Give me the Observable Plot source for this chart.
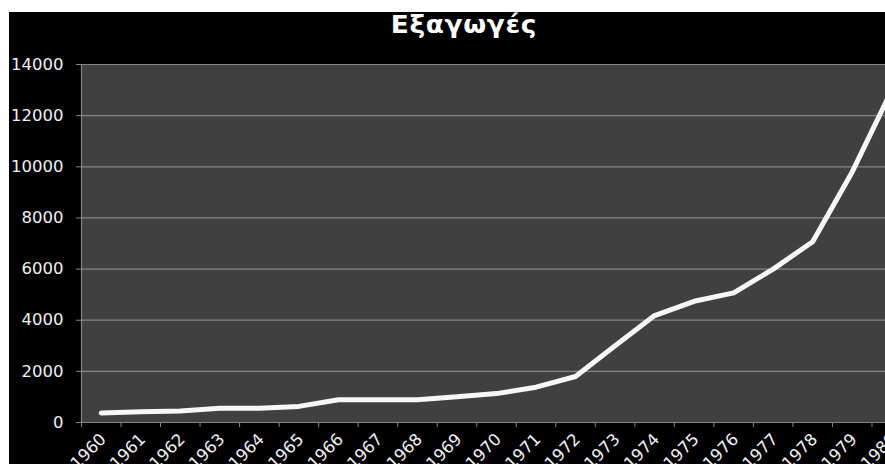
<!DOCTYPE html>
<html>
<head>
<meta charset="utf-8">
<script src="https://cdn.jsdelivr.net/npm/d3@7"></script>
<script src="https://cdn.jsdelivr.net/npm/@observablehq/plot@0.6"></script>
<style>
  html, body { margin: 0; padding: 0; background: #ffffff; overflow: hidden; width: 885px; height: 464px; }
  #chart { position: absolute; left: 9px; top: 12px; width: 910px; height: 460px; background: #000; }
  #title { position: absolute; left: 0; top: 1px; width: 910px; text-align: center; color: #ffffff;
           font-family: "DejaVu Sans", sans-serif; font-weight: 700; font-size: 24px; line-height: 24px;
           letter-spacing: 0.6px; transform: scaleX(1.1); transform-origin: 455px 0; }
  #plot { position: absolute; left: 0; top: 0; }
</style>
</head>
<body>
<div id="chart"><div id="plot"></div><div id="title">Εξαγωγές</div></div>
<script>
const title = "Εξαγωγές";
const years = [1960, 1961, 1962, 1963, 1964, 1965, 1966, 1967, 1968, 1969, 1970,
               1971, 1972, 1973, 1974, 1975, 1976, 1977, 1978, 1979, 1980];
const exportsValues = [370, 420, 450, 560, 560, 630, 890, 890, 890, 1010, 1130,
                       1380, 1800, 3000, 4180, 4740, 5070, 6000, 7070, 9800, 13000];
const yTicks = [0, 2000, 4000, 6000, 8000, 10000, 12000, 14000];

const data = years.map((y, i) => ({year: y, value: exportsValues[i]}));
const boundaries = [...years.map(y => y - 0.5), years[years.length - 1] + 0.5];

const gray = "#858585";
const chart = Plot.plot({
  width: 910,
  height: 452,
  marginLeft: 72,
  marginRight: 8,
  marginTop: 52,
  marginBottom: 42,
  style: {background: "transparent", color: "#f0f0f0", fontFamily: "'DejaVu Sans', sans-serif"},
  x: {type: "linear", domain: [years[0] - 0.5, years[years.length - 1] + 0.5], label: null},
  y: {domain: [0, 14000], label: null},
  marks: [
    Plot.frame({fill: "#404040", stroke: null}),
    Plot.gridY(yTicks, {stroke: gray, strokeOpacity: 1, strokeWidth: 1.2}),
    Plot.ruleX([boundaries[0]], {stroke: gray, strokeWidth: 1.2}),
    Plot.ruleY([0], {stroke: gray, strokeWidth: 1.2}),
    Plot.axisY({ticks: yTicks, tickSize: 5, tickPadding: 13, stroke: gray, fill: "#f0f0f0", fontSize: 16.5, label: null, tickFormat: d => String(d)}),
    Plot.axisX({ticks: boundaries, tickSize: 5, tickFormat: () => "", stroke: gray, label: null}),
    Plot.axisX({ticks: years, tickSize: 0, tickPadding: 14, tickRotate: -45, fontSize: 16.5, fill: "#f0f0f0", label: null, tickFormat: d => String(d), dx: 2}),
    Plot.line(data, {x: "year", y: "value", stroke: "#f7f7f7", strokeWidth: 5, strokeLinejoin: "round"})
  ]
});
document.getElementById("plot").appendChild(chart);
</script>
</body>
</html>
